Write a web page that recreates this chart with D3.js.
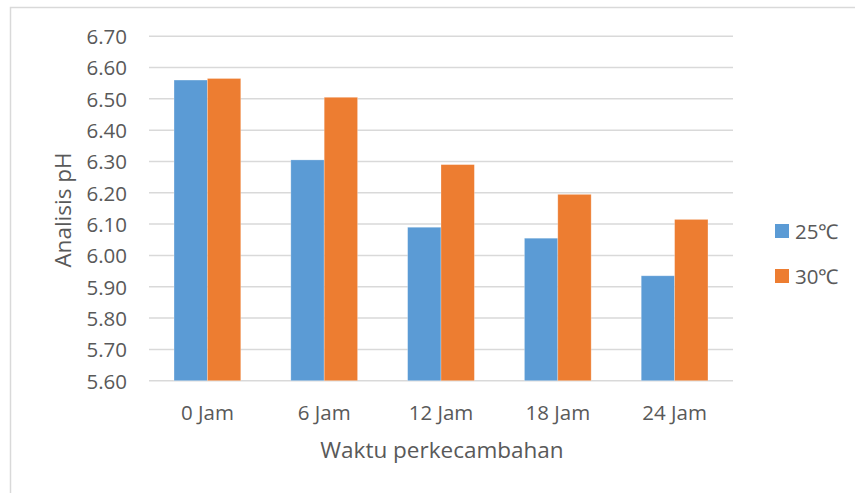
<!DOCTYPE html>
<html>
<head>
<meta charset="utf-8">
<script src="https://cdn.jsdelivr.net/npm/d3@7"></script>
<style>
  html, body { margin: 0; padding: 0; background: #fff; }
  svg { display: block; }
</style>
</head>
<body>
<svg id="chart" width="855" height="493"></svg>
<script>
const categories = ["0 Jam", "6 Jam", "12 Jam", "18 Jam", "24 Jam"];
const seriesNames = ["25\u2103", "30\u2103"];
const values25 = [6.56, 6.305, 6.09, 6.055, 5.935];
const values30 = [6.565, 6.505, 6.29, 6.195, 6.115];
const yTicks = [5.6, 5.7, 5.8, 5.9, 6.0, 6.1, 6.2, 6.3, 6.4, 6.5, 6.6, 6.7];
const colors = ["#5B9BD5", "#ED7D31"];

const svg = d3.select("#chart");
const font = "'Open Sans', sans-serif";
const textColor = "#595959";

// outer frame
svg.append("rect").attr("x", 10.5).attr("y", 7.5).attr("width", 900).attr("height", 600)
  .attr("fill", "none").attr("stroke", "#D9D9D9").attr("stroke-width", 1.5);

const plot = { left: 149, right: 733, top: 36.2, bottom: 380.7 };

const y = d3.scaleLinear().domain([5.6, 6.7]).range([plot.bottom, plot.top]);
const x0 = d3.scaleBand().domain(categories).range([plot.left, plot.right])
  .paddingInner(0.4286).paddingOuter(0.2143);
const x1 = d3.scaleBand().domain(seriesNames).range([0, x0.bandwidth()]);

// gridlines
svg.append("g").selectAll("line").data(yTicks).join("line")
  .attr("x1", plot.left).attr("x2", plot.right)
  .attr("y1", d => y(d)).attr("y2", d => y(d))
  .attr("stroke", "#D9D9D9").attr("stroke-width", 1.5);

// y axis labels
const yAxis = d3.axisLeft(y).tickValues(yTicks).tickFormat(d3.format(".2f")).tickSize(0).tickPadding(0);
const yg = svg.append("g").attr("transform", `translate(127,0)`).call(yAxis);
yg.select(".domain").remove();
yg.selectAll("text").attr("font-family", font).attr("font-size", 20.5).attr("fill", textColor).attr("dy", "0.36em");

// bars
const data = categories.map((c, i) => ({ cat: c, vals: [values25[i], values30[i]] }));
const groups = svg.append("g").selectAll("g").data(data).join("g")
  .attr("transform", d => `translate(${x0(d.cat)},0)`);
groups.selectAll("rect").data(d => d.vals.map((v, j) => ({ v, s: seriesNames[j], j })))
  .join("rect")
  .attr("x", d => x1(d.s))
  .attr("y", d => y(d.v))
  .attr("width", x1.bandwidth())
  .attr("height", d => y(5.6) - y(d.v))
  .attr("fill", d => colors[d.j])
  .attr("stroke", "#ffffff").attr("stroke-opacity", 0.35).attr("stroke-width", 0.75);

// x axis labels
const xAxis = d3.axisBottom(x0).tickSize(0).tickPadding(0);
const xg = svg.append("g").attr("transform", `translate(0,${plot.bottom})`).call(xAxis);
xg.select(".domain").remove();
xg.selectAll("text").attr("font-family", font).attr("font-size", 20.5).attr("fill", textColor)
  .attr("dy", 0).attr("y", 39);

// axis titles
svg.append("text").attr("x", 442).attr("y", 458).attr("text-anchor", "middle")
  .attr("font-family", font).attr("font-size", 22.5).attr("fill", textColor)
  .text("Waktu perkecambahan");
svg.append("text").attr("transform", "translate(71,210) rotate(-90)").attr("text-anchor", "middle")
  .attr("font-family", font).attr("font-size", 22.5).attr("fill", textColor)
  .text("Analisis pH");

// legend
const legend = svg.append("g").selectAll("g").data(seriesNames).join("g")
  .attr("transform", (d, i) => `translate(775,${224 + i * 45})`);
legend.append("rect").attr("width", 14).attr("height", 14).attr("fill", (d, i) => colors[i]);
legend.append("text").attr("x", 20).attr("y", 14.5)
  .attr("font-family", font).attr("font-size", 20.5).attr("fill", textColor)
  .text(d => d);
</script>
</body>
</html>
